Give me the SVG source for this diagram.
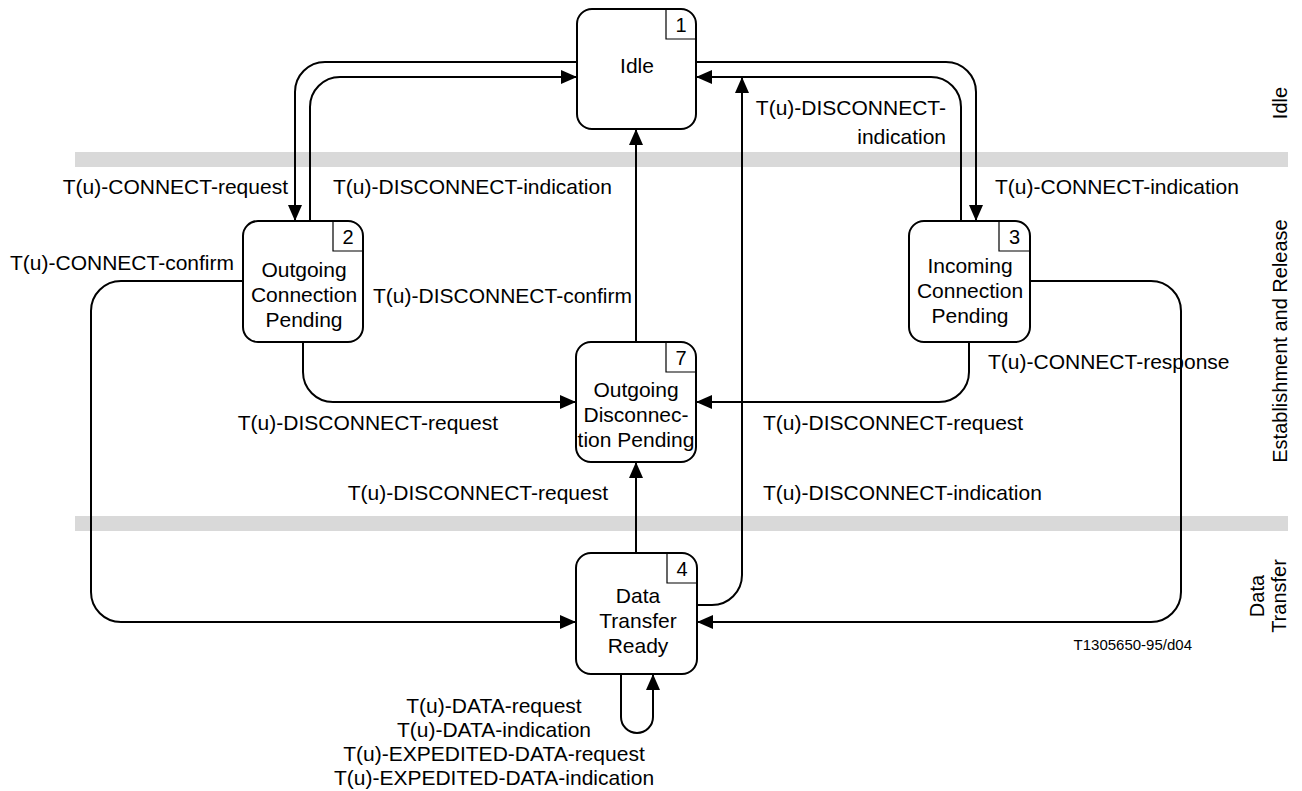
<svg xmlns="http://www.w3.org/2000/svg" width="1302" height="791" viewBox="0 0 1302 791">
<defs>
<style>
text{font-family:"Liberation Sans",Arial,sans-serif;fill:#000}
.lbl{font-size:21px}
.side{font-size:20px}
.num{font-size:20px;text-anchor:middle}
.nt{font-size:21px;text-anchor:middle}
.node{fill:#fff;stroke:#000;stroke-width:2}
.nbox{fill:none;stroke:#000;stroke-width:1.2}
.band{fill:#d9d9d9}
.con{fill:none;stroke:#000;stroke-width:2;marker-end:url(#ah)}
</style>
<marker id="ah" markerUnits="userSpaceOnUse" markerWidth="16" markerHeight="14" refX="16" refY="7" orient="auto" viewBox="0 0 16 14">
<path d="M0,0 L16,7 L0,14 z" fill="#000"/>
</marker>
</defs>
<rect width="1302" height="791" fill="#fff"/>
<g id="bands">
<rect class="band" x="75" y="152" width="1213" height="15"/>
<rect class="band" x="75" y="516" width="1213" height="15"/>
</g>
<g id="connectors">
<path class="con" d="M577,62 H325 A30,30 0 0 0 295,92 V221"/>
<path class="con" d="M310,221 V107 A30,30 0 0 1 340,77 H577"/>
<path class="con" d="M696,62 H946 A30,30 0 0 1 976,92 V221"/>
<path class="con" d="M961,221 V107 A30,30 0 0 0 931,77 H696"/>
<path class="con" d="M697,605 H712 A30,30 0 0 0 742,575 V77"/>
<path class="con" d="M636,342 V129"/>
<path class="con" d="M636,553 V462"/>
<path class="con" d="M303,342 V372 A30,30 0 0 0 333,402 H576"/>
<path class="con" d="M969,342 V372 A30,30 0 0 1 939,402 H696"/>
<path class="con" d="M243,281 H121 A30,30 0 0 0 91,311 V592 A30,30 0 0 0 121,622 H576"/>
<path class="con" d="M1030,281 H1151 A30,30 0 0 1 1181,311 V592 A30,30 0 0 1 1151,622 H697"/>
<path class="con" d="M621,674 V717 A16,16 0 0 0 653,717 V674"/>
</g>
<g id="n1">
<rect class="node" x="577" y="9" width="119" height="120" rx="15"/>
<path class="nbox" d="M666,9 V39 H696"/>
<text class="num" x="681" y="32">1</text>
<text class="nt" x="637" y="73">Idle</text>
</g>
<g id="n2">
<rect class="node" x="243" y="221" width="120" height="121" rx="15"/>
<path class="nbox" d="M333,221 V251 H363"/>
<text class="num" x="348" y="244">2</text>
<text class="nt" x="304" y="277">Outgoing</text>
<text class="nt" x="304" y="302">Connection</text>
<text class="nt" x="304" y="327">Pending</text>
</g>
<g id="n3">
<rect class="node" x="909" y="221" width="121" height="121" rx="15"/>
<path class="nbox" d="M999,221 V251 H1030"/>
<text class="num" x="1014.5" y="244">3</text>
<text class="nt" x="970" y="273">Incoming</text>
<text class="nt" x="970" y="298">Connection</text>
<text class="nt" x="970" y="323">Pending</text>
</g>
<g id="n7">
<rect class="node" x="576" y="342" width="120" height="120" rx="15"/>
<path class="nbox" d="M666,342 V372 H696"/>
<text class="num" x="681" y="365">7</text>
<text class="nt" x="636" y="397">Outgoing</text>
<text class="nt" x="636" y="422">Disconnec-</text>
<text class="nt" x="636" y="447">tion Pending</text>
</g>
<g id="n4">
<rect class="node" x="576" y="553" width="121" height="121" rx="15"/>
<path class="nbox" d="M667,553 V583 H697"/>
<text class="num" x="682" y="576">4</text>
<text class="nt" x="638" y="603">Data</text>
<text class="nt" x="638" y="628">Transfer</text>
<text class="nt" x="638" y="653">Ready</text>
</g>
<g id="labels">
<text class="lbl" x="288" y="194" text-anchor="end">T(u)-CONNECT-request</text>
<text class="lbl" x="333" y="194">T(u)-DISCONNECT-indication</text>
<text class="lbl" x="10" y="270">T(u)-CONNECT-confirm</text>
<text class="lbl" x="632" y="303" text-anchor="end">T(u)-DISCONNECT-confirm</text>
<text class="lbl" x="498" y="430" text-anchor="end">T(u)-DISCONNECT-request</text>
<text class="lbl" x="763" y="430">T(u)-DISCONNECT-request</text>
<text class="lbl" x="608" y="500" text-anchor="end">T(u)-DISCONNECT-request</text>
<text class="lbl" x="763" y="500">T(u)-DISCONNECT-indication</text>
<text class="lbl" x="995" y="194">T(u)-CONNECT-indication</text>
<text class="lbl" x="988" y="369">T(u)-CONNECT-response</text>
<text class="lbl" x="946" y="115" text-anchor="end">T(u)-DISCONNECT-</text>
<text class="lbl" x="946" y="144" text-anchor="end">indication</text>
<text class="lbl" x="494" y="713" text-anchor="middle">T(u)-DATA-request</text>
<text class="lbl" x="494" y="737" text-anchor="middle">T(u)-DATA-indication</text>
<text class="lbl" x="494" y="761" text-anchor="middle">T(u)-EXPEDITED-DATA-request</text>
<text class="lbl" x="494" y="785" text-anchor="middle">T(u)-EXPEDITED-DATA-indication</text>
<text x="1192" y="650" font-size="15" text-anchor="end">T1305650-95/d04</text>
</g>
<g id="side-labels">
<text class="side" transform="translate(1287,103) rotate(-90)" text-anchor="middle">Idle</text>
<text class="side" transform="translate(1287,341) rotate(-90)" text-anchor="middle">Establishment and Release</text>
<text class="side" transform="translate(1264,596) rotate(-90)" text-anchor="middle">Data</text>
<text class="side" transform="translate(1286,596) rotate(-90)" text-anchor="middle">Transfer</text>
</g>
</svg>
